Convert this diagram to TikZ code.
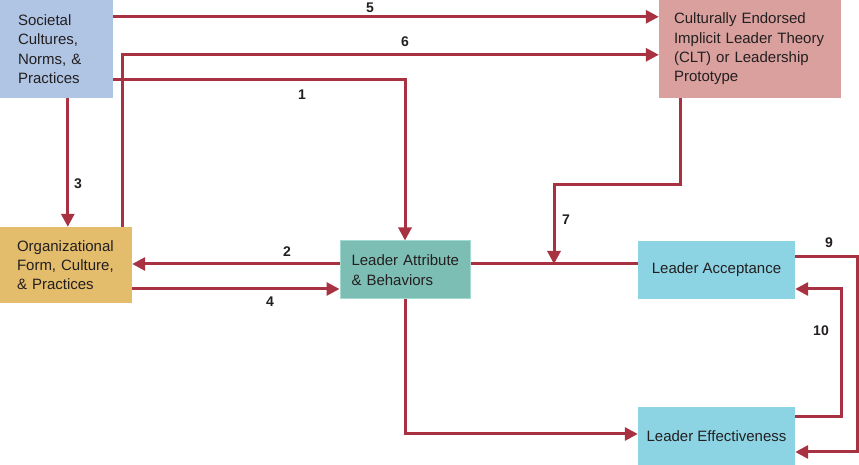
\documentclass[tikz,border=0pt]{standalone}
\usepackage{fontspec}
\setmainfont{Liberation Sans}
\usetikzlibrary{arrows.meta}
\definecolor{socc}{RGB}{176,196,228}
\definecolor{cltc}{RGB}{217,160,158}
\definecolor{orgc}{RGB}{227,188,108}
\definecolor{lac}{RGB}{125,190,180}
\definecolor{labd}{RGB}{165,218,208}
\definecolor{accc}{RGB}{140,212,228}
\definecolor{arrc}{RGB}{168,50,66}
\definecolor{txtc}{RGB}{35,31,32}
\tikzset{
  box/.style={rectangle, inner ysep=0pt, font=\fontsize{15}{19.3}\selectfont, text=txtc, align=left},
  arr/.style={draw=arrc, line width=3pt, -{Triangle[length=13pt,width=13pt]}},
  plainline/.style={draw=arrc, line width=3pt},
  num/.style={font=\fontsize{14}{14}\selectfont\bfseries, text=txtc, inner sep=0pt}
}
\begin{document}
\begin{tikzpicture}[x=1pt,y=1pt]
\useasboundingbox (0,0) rectangle (859,465);
% boxes
\node[box, fill=socc, minimum width=113pt, minimum height=98pt, inner xsep=18pt, text width=77pt] (soc) at (56.5,416) {\mbox{Societal}\\\mbox{Cultures,}\\\mbox{Norms, \&}\\\mbox{Practices}};
\node[box, fill=cltc, minimum width=182pt, minimum height=98pt, inner xsep=15pt, text width=152pt] (clt) at (750,416) {\mbox{Culturally Endorsed}\\\mbox{Implicit Leader Theory}\\\mbox{(CLT) or Leadership}\\\mbox{Prototype}};
\node[box, fill=orgc, minimum width=132pt, minimum height=76pt, inner xsep=17pt, text width=98pt] (org) at (66,200) {\mbox{Organizational}\\\mbox{Form, Culture,}\\\mbox{\& Practices}};
\node[box, fill=lac, draw=labd, line width=1pt, minimum width=130pt, minimum height=58pt, inner xsep=11pt, text width=107pt] (la) at (405,195) {\mbox{Leader Attribute}\\\mbox{\& Behaviors}};
\node[box, fill=accc, minimum width=157pt, minimum height=58pt, align=center] (acc) at (716.5,195) {Leader Acceptance};
\node[box, fill=accc, minimum width=157pt, minimum height=58pt, align=center] (eff) at (716.5,29) {Leader Effectiveness};
% connectors
\draw[arr] ([yshift=-17pt]soc.north east) -- ([yshift=-17pt]clt.north west);
\draw[arr] ([xshift=123pt]org.north west) |- ([yshift=-55pt]clt.north west);
\draw[arr] ([yshift=-80pt]soc.north east) -| (la.north);
\draw[arr] ([xshift=68pt]soc.south west) -- ([xshift=68pt]org.north west);
\draw[arr] ([yshift=6pt]la.west) -- ([yshift=6pt]la.west -| org.east);
\draw[arr] ([yshift=-24pt]org.east) -- ([yshift=-24pt]org.east -| la.west);
\draw[plainline] ([yshift=6pt]la.east) -- ([yshift=6pt]acc.west);
\coordinate (meet) at (554,201);
\draw[arr] ([xshift=22pt]clt.south west) -- ++(0,-86) -| (meet);
\draw[arr] ([yshift=13pt]acc.east) -- ++(62,0) |- ([yshift=-16pt]eff.east);
\draw[arr] ([yshift=19pt]eff.east) -- ++(46,0) |- ([yshift=-19pt]acc.east);
\draw[arr] (la.south) |- ([yshift=2pt]eff.west);
% labels
\node[num] (n5) at (370,457) {5};
\node[num] (n6) at (405,423) {6};
\node[num] (n1) at (302,370) {1};
\node[num] (n3) at (78,281) {3};
\node[num] (n2) at (287,213) {2};
\node[num] (n4) at (270,163) {4};
\node[num] (n7) at (566,245) {7};
\node[num] (n9) at (829,222) {9};
\node[num] (n10) at (821,134) {10};
\end{tikzpicture}
\end{document}
